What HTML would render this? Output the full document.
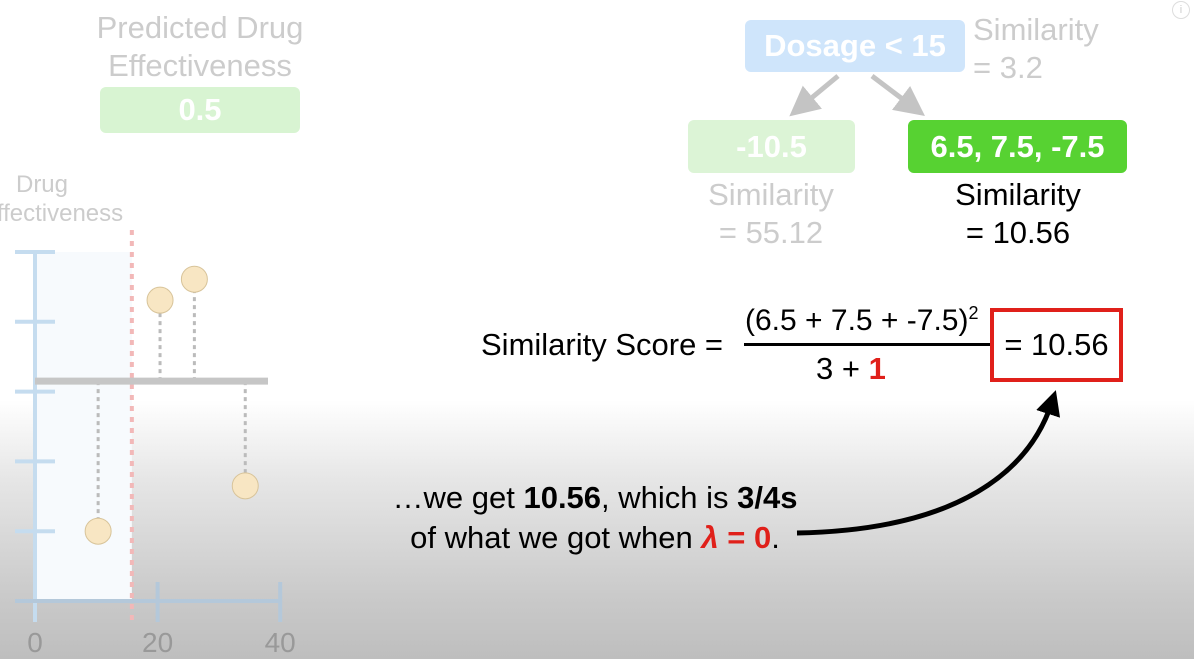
<!DOCTYPE html>
<html><head><meta charset="utf-8"><style>
body{margin:0;width:1194px;height:659px;overflow:hidden;font-family:"Liberation Sans",sans-serif;background:linear-gradient(to bottom,#fff 0,#fff 400px,#e6e6e6 480px,#c9c9c9 600px,#bebebe 659px);position:relative}
.t{position:absolute;white-space:nowrap}
.box{position:absolute;border-radius:6px;color:#fff;font-weight:bold;font-size:31px;display:flex;align-items:center;justify-content:center}
</style></head><body>
<div class="t" style="left:200px;top:9px;transform:translateX(-50%);font-size:31px;color:#ccc;text-align:center;line-height:38px">Predicted Drug<br>Effectiveness</div>
<div class="box" style="left:100px;top:87px;width:200px;height:46px;background:#d8f4d2">0.5</div>

<svg width="320" height="659" style="position:absolute;left:0;top:0">
<text x="42" y="192" font-size="24" fill="#ccc" text-anchor="middle" font-family="Liberation Sans">Drug</text>
<text x="52" y="221" font-size="24" fill="#ccc" text-anchor="middle" font-family="Liberation Sans">Effectiveness</text>
<g id="g"></g>
</svg>

<div class="box" style="left:745px;top:20px;width:220px;height:52px;background:#cfe5fb">Dosage &lt; 15</div>
<div class="t" style="left:973px;top:11px;font-size:31px;color:#ccc;line-height:38px">Similarity<br>= 3.2</div>
<svg width="1194" height="200" style="position:absolute;left:0;top:0">
<defs><marker id="ah" markerWidth="6" markerHeight="6" refX="4" refY="3" orient="auto"><path d="M0,0L6,3L0,6z" fill="#c4c4c4"/></marker></defs>
<line x1="838" y1="76" x2="797" y2="110" stroke="#c4c4c4" stroke-width="5" marker-end="url(#ah)"/>
<line x1="872" y1="76" x2="917" y2="110" stroke="#c4c4c4" stroke-width="5" marker-end="url(#ah)"/>
</svg>
<div class="box" style="left:688px;top:120px;width:167px;height:53px;background:#dcf4d6">-10.5</div>
<div class="box" style="left:908px;top:120px;width:219px;height:53px;background:#57d232">6.5, 7.5, -7.5</div>
<div class="t" style="left:771px;top:176px;transform:translateX(-50%);font-size:31px;color:#ccc;text-align:center;line-height:38px">Similarity<br>= 55.12</div>
<div class="t" style="left:1018px;top:176px;transform:translateX(-50%);font-size:31px;color:#000;text-align:center;line-height:38px">Similarity<br>= 10.56</div>

<div class="t" style="left:481px;top:327px;font-size:31px">Similarity Score =</div>
<div class="t" style="left:745px;top:303px;font-size:30px">(6.5 + 7.5 + -7.5)<sup style="font-size:18px">2</sup></div>
<div style="position:absolute;left:744px;top:343px;width:246px;height:3px;background:#000"></div>
<div class="t" style="left:816px;top:351px;font-size:31px">3 + <b style="color:#e0201a">1</b></div>
<div class="t" style="left:990px;top:308px;width:125px;height:66px;border:4px solid #e0201a;font-size:31px;display:flex;align-items:center;justify-content:center">= 10.56</div>

<div class="t" style="left:595px;top:478px;transform:translateX(-50%);font-size:31px;text-align:center;line-height:40px">…we get <b>10.56</b>, which is <b>3/4s</b><br>of what we got when <b style="color:#e0201a"><i>λ</i> = 0</b>.</div>
<svg width="1194" height="659" style="position:absolute;left:0;top:0">
<defs><marker id="bh" markerWidth="5" markerHeight="5" refX="2.5" refY="2.5" orient="auto"><path d="M0,0L5,2.5L0,5z" fill="#000"/></marker></defs>
<path d="M797,533 C960,530 1030,470 1052,402" stroke="#000" stroke-width="5" fill="none" marker-end="url(#bh)"/>
</svg>
<div style="position:absolute;left:1172px;top:1px;width:16px;height:16px;border:1px solid #ddd;border-radius:50%;color:#ccc;font-size:11px;text-align:center;line-height:16px">i</div>

<script>
const xTicks=[0,20,40];
const yTicks=[1,2,3,4,5];
const pointX=[10.3,20.4,26,34.3];
const pointY=[1.0,4.31,4.61,1.65];
const residualLevel=[3.15];
const threshold=[15.8];
const sx=v=>35+v*6.13, sy=v=>601-v*69.8;
const g=document.getElementById('g'),NS='http://www.w3.org/2000/svg';
function mk(t,a){const e=document.createElementNS(NS,t);for(const k in a)e.setAttribute(k,a[k]);g.appendChild(e);return e;}
let e=mk('rect',{x:sx(0),y:sy(5),width:sx(threshold[0])-sx(0),height:sy(0)-sy(5),fill:'#f7fafd'});

e=mk('line',{x1:sx(0),y1:sy(5)-2,x2:sx(0),y2:622,stroke:'#c5dcef','stroke-width':4});

e=mk('line',{x1:15,y1:601,x2:sx(40),y2:601,stroke:'#b4c8da','stroke-width':4});

yTicks.forEach(v=>{e=mk('line',{x1:15,y1:sy(v),x2:55,y2:sy(v),stroke:'#c5dcef','stroke-width':4});
});
xTicks.forEach(v=>{if(v>0){e=mk('line',{x1:sx(v),y1:582,x2:sx(v),y2:622,stroke:'#b4c8da','stroke-width':4});
}
e=mk('text',{x:sx(v),y:652,'font-size':28,fill:'#999','text-anchor':'middle','font-family':'Liberation Sans'});e.textContent=v;
});
e=mk('line',{x1:sx(threshold[0]),y1:230,x2:sx(threshold[0]),y2:620,stroke:'#f2b8b8','stroke-width':4,'stroke-dasharray':'5,6'});

pointX.forEach((x,i)=>{e=mk('line',{x1:sx(x),y1:sy(residualLevel[0]),x2:sx(x),y2:sy(pointY[i]),stroke:'#bbb','stroke-width':3,'stroke-dasharray':'4,4'});
});
e=mk('line',{x1:sx(0),y1:sy(residualLevel[0]),x2:268,y2:sy(residualLevel[0]),stroke:'#c6c6c6','stroke-width':7});

pointX.forEach((x,i)=>{e=mk('circle',{cx:sx(x),cy:sy(pointY[i]),r:13,fill:'#f8e6c3',stroke:'#d8c49a','stroke-width':1});
});
</script>
</body></html>
